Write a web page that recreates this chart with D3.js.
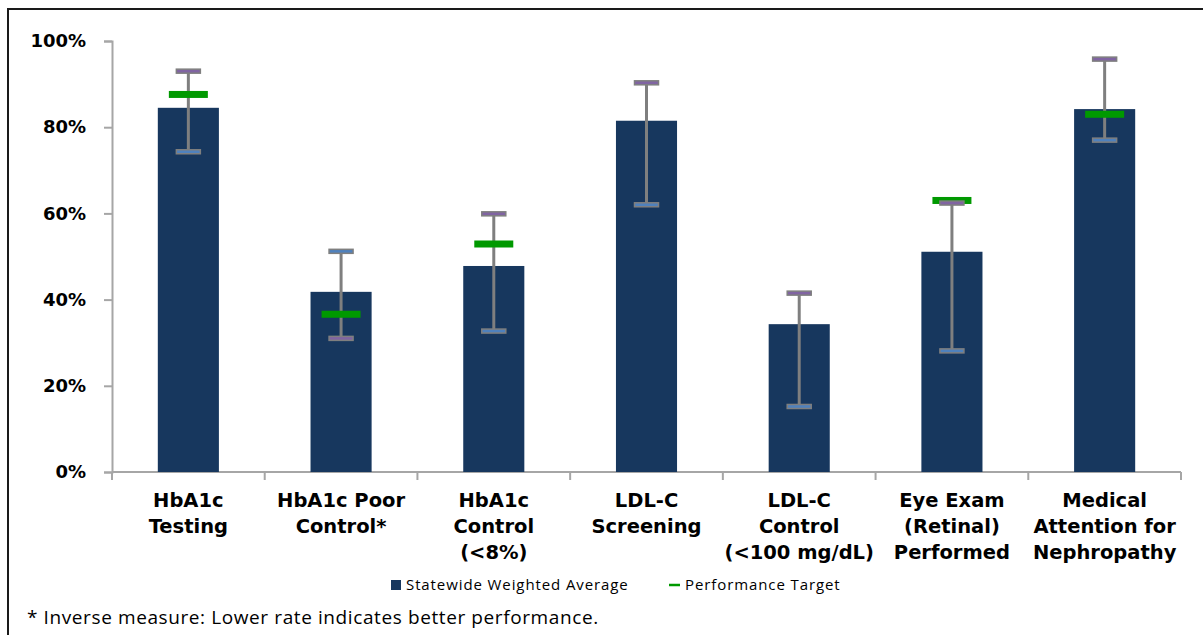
<!DOCTYPE html>
<html><head><meta charset="utf-8">
<script src="https://cdn.jsdelivr.net/npm/d3@7"></script>
<style>body{margin:0;background:#fff}svg{display:block}</style>
</head><body>
<script>
const categories = [
  ["HbA1c","Testing"],
  ["HbA1c Poor","Control*"],
  ["HbA1c","Control","(<8%)"],
  ["LDL-C","Screening"],
  ["LDL-C","Control","(<100 mg/dL)"],
  ["Eye Exam","(Retinal)","Performed"],
  ["Medical","Attention for","Nephropathy"]
];
const averages = [84.5, 41.8, 47.8, 81.5, 34.3, 51.1, 84.2];
const highs   = [93.0, 51.2, 59.9, 90.3, 41.5, 62.4, 95.8];
const lows    = [74.3, 31.0, 32.7, 62.0, 15.2, 28.1, 77.0];
const targets = [87.6, 36.6, 52.9, null, null, 63.0, 83.0];
// cap colour order: top cap purple for all except inverse measure
const topIsBest = [true, false, true, true, true, true, true];
const yTicks = [0, 20, 40, 60, 80, 100];
const legendLabels = ["Statewide Weighted Average", "Performance Target"];
const footnote = "* Inverse measure: Lower rate indicates better performance.";

const W = 1203, H = 635;
const svg = d3.select("body").append("svg").attr("width", W).attr("height", H);

// frame
svg.append("rect").attr("x", 8).attr("y", 9).attr("width", W + 10).attr("height", H + 10)
  .attr("fill", "none").attr("stroke", "#1a1a1a").attr("stroke-width", 2);

const x0 = 112, x1 = 1181, yTop = 41, yBot = 472;
const idx = d3.range(categories.length);
const x = d3.scaleBand().domain(idx).range([x0, x1]).paddingInner(0.6).paddingOuter(0.3);
const y = d3.scaleLinear().domain([0, 100]).range([yBot, yTop]);
const xb = d3.scaleBand().domain(idx).range([x0, x1]); // for ticks

const axisColor = "#a6a6a6";
// y axis
const yAxis = svg.append("g").attr("transform", `translate(${x0},0)`)
  .call(d3.axisLeft(y).tickValues(yTicks).tickFormat(d => d + "%").tickSize(8).tickPadding(18));
yAxis.select(".domain").attr("stroke", axisColor).attr("stroke-width", 2);
yAxis.selectAll(".tick line").attr("stroke", axisColor).attr("stroke-width", 2);
yAxis.selectAll(".tick text").attr("font-family", "DejaVu Sans").attr("font-weight", "bold")
  .attr("font-size", 18).attr("fill", "#000");

// x axis line and ticks
const bounds = idx.map(i => xb(i)).concat([x1]);
svg.append("line").attr("x1", x0).attr("x2", x1).attr("y1", yBot).attr("y2", yBot)
  .attr("stroke", axisColor).attr("stroke-width", 2);
svg.selectAll(".xt").data(bounds).join("line")
  .attr("x1", d => d).attr("x2", d => d).attr("y1", yBot).attr("y2", yBot + 8)
  .attr("stroke", axisColor).attr("stroke-width", 2);

// bars
svg.selectAll(".bar").data(idx).join("rect")
  .attr("x", i => x(i)).attr("width", x.bandwidth())
  .attr("y", i => y(averages[i])).attr("height", i => y(0) - y(averages[i]))
  .attr("fill", "#17375e");

// whiskers
const cx = i => x(i) + x.bandwidth() / 2;
svg.selectAll(".wh").data(idx).join("line")
  .attr("x1", cx).attr("x2", cx).attr("y1", i => y(highs[i])).attr("y2", i => y(lows[i]))
  .attr("stroke", "#7f7f7f").attr("stroke-width", 3);

// targets
svg.selectAll(".tg").data(idx.filter(i => targets[i] != null)).join("rect")
  .attr("x", i => cx(i) - 19.5).attr("width", 39)
  .attr("y", i => y(targets[i]) - 3.5).attr("height", 7)
  .attr("fill", "#009900");

// caps
const purple = "#8064a2", blue = "#4f81bd";
function cap(vals, colorFn) {
  svg.append("g").selectAll("rect").data(idx).join("rect")
    .attr("x", i => cx(i) - 12).attr("width", 24)
    .attr("y", i => y(vals[i]) - 2).attr("height", 4)
    .attr("fill", colorFn).attr("stroke", "#7f7f7f").attr("stroke-width", 1.5);
}
cap(highs, i => topIsBest[i] ? purple : blue);
cap(lows, i => topIsBest[i] ? blue : purple);

// x labels
const lab = svg.append("g");
idx.forEach(i => {
  const t = lab.append("text").attr("x", cx(i)).attr("y", 507)
    .attr("text-anchor", "middle").attr("font-family", "DejaVu Sans")
    .attr("font-weight", "bold").attr("font-size", 19.5).attr("fill", "#000");
  categories[i].forEach((ln, k) => t.append("tspan").attr("x", cx(i)).attr("dy", k ? 26 : 0).text(ln));
});

// legend
const lg = svg.append("g").attr("font-family", "Open Sans").attr("font-size", 15)
  .attr("letter-spacing", 0.9).attr("fill", "#000");
lg.append("rect").attr("x", 391).attr("y", 580).attr("width", 10).attr("height", 10).attr("fill", "#17375e");
lg.append("text").attr("x", 406).attr("y", 590).text(legendLabels[0]);
lg.append("line").attr("x1", 669).attr("x2", 680).attr("y1", 585).attr("y2", 585)
  .attr("stroke", "#009900").attr("stroke-width", 2.5);
lg.append("text").attr("x", 685).attr("y", 590).text(legendLabels[1]);

// footnote
svg.append("text").attr("x", 27).attr("y", 624).attr("font-family", "Open Sans")
  .attr("font-size", 19).attr("letter-spacing", 0.6).attr("fill", "#000").text(footnote);
</script>
</body></html>
